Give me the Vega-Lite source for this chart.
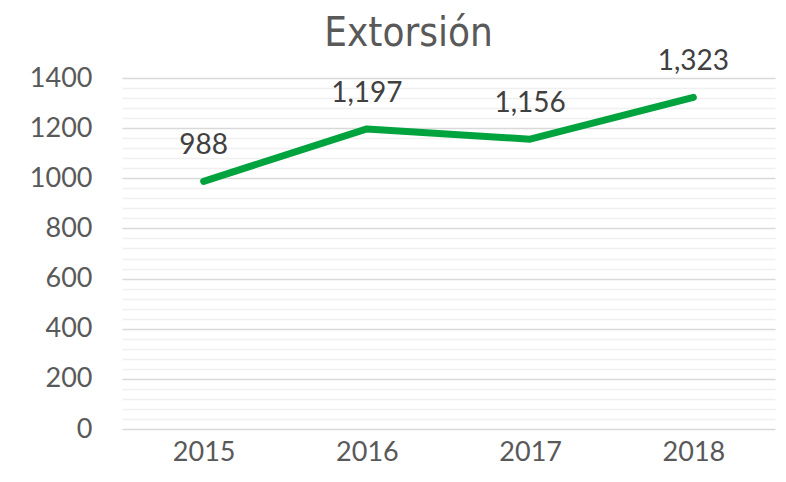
{
  "$schema": "https://vega.github.io/schema/vega-lite/v6.json",
  "width": 653,
  "height": 351,
  "autosize": {"type": "none"},
  "padding": {"left": 122, "top": 78, "right": 11, "bottom": 53},
  "background": "#ffffff",
  "config": {"view": {"stroke": null}, "font": "Lato"},
  "title": {
    "text": "Extorsión",
    "font": "'DejaVu Sans Condensed', 'Liberation Sans Narrow', 'Roboto Condensed', Roboto, sans-serif",
    "fontSize": 40,
    "fontWeight": "normal",
    "color": "#595959",
    "anchor": "middle",
    "frame": "group",
    "offset": -6,
    "dx": -40
  },
  "data": {
    "values": [
      {"year": "2015", "value": 988},
      {"year": "2016", "value": 1197},
      {"year": "2017", "value": 1156},
      {"year": "2018", "value": 1323}
    ]
  },
  "encoding": {
    "x": {
      "field": "year",
      "type": "ordinal",
      "scale": {"type": "point", "padding": 0.5},
      "axis": {
        "title": null,
        "labelAngle": 0,
        "labelFontSize": 27,
        "labelColor": "#595959",
        "labelFont": "Lato",
        "labelPadding": 10,
        "ticks": false,
        "domain": false,
        "grid": false
      }
    }
  },
  "layer": [
    {
      "mark": {"type": "line", "color": "#00A33E", "strokeWidth": 7, "strokeCap": "round", "strokeJoin": "round"},
      "encoding": {
        "y": {
          "field": "value",
          "type": "quantitative",
          "scale": {"domain": [0, 1400], "nice": false, "zero": true},
          "axis": {
            "title": null,
            "values": [0, 200, 400, 600, 800, 1000, 1200, 1400],
            "format": "d",
            "labelFontSize": 27,
            "labelColor": "#595959",
            "labelFont": "Lato",
            "labelPadding": 30,
            "ticks": false,
            "domain": false,
            "grid": true,
            "gridColor": "#d9d9d9",
            "gridWidth": 1.5
          }
        }
      }
    },
    {
      "mark": {"type": "text", "fontSize": 28, "color": "#404040", "dy": -35, "baseline": "middle", "font": "Lato"},
      "encoding": {
        "y": {
          "field": "value",
          "type": "quantitative",
          "axis": {
            "orient": "right",
            "title": null,
            "values": [40, 80, 120, 160, 240, 280, 320, 360, 440, 480, 520, 560, 640, 680, 720, 760, 840, 880, 920, 960, 1040, 1080, 1120, 1160, 1240, 1280, 1320, 1360],
            "labels": false,
            "ticks": false,
            "domain": false,
            "grid": true,
            "gridColor": "#f0f0f0",
            "gridWidth": 1.5
          }
        },
        "text": {"field": "value", "type": "quantitative", "format": ","}
      }
    }
  ],
  "resolve": {"axis": {"y": "independent"}, "scale": {"y": "shared"}}
}
